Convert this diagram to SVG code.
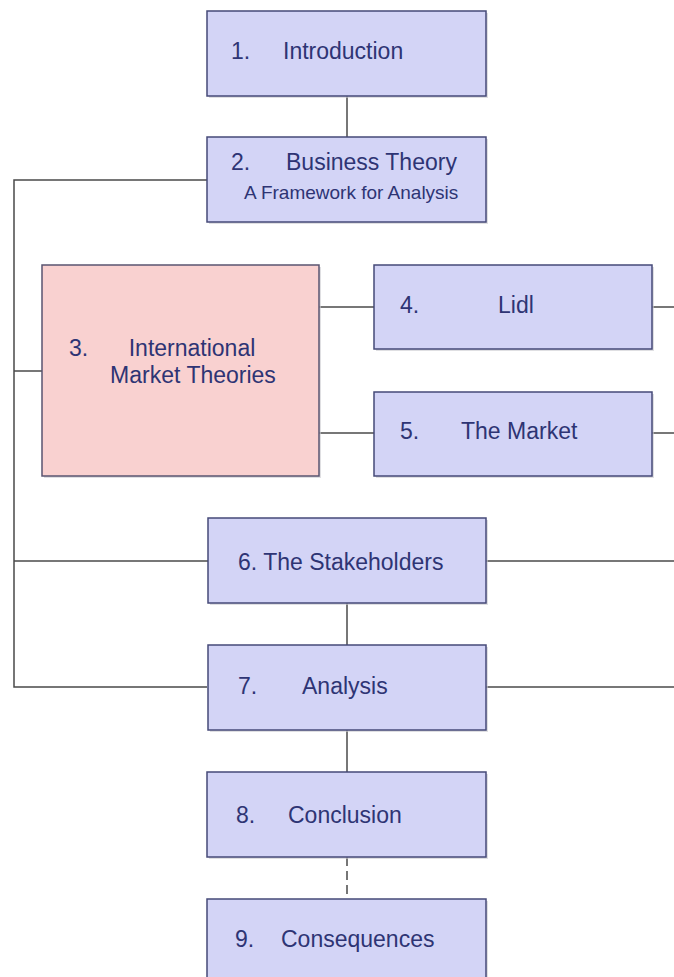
<svg xmlns="http://www.w3.org/2000/svg" width="674" height="977" viewBox="0 0 674 977">
<style>
.box{fill:#d3d4f6;stroke:#464a78;stroke-width:1.5}
.pink{fill:#f9d1d0;stroke:#5a5470;stroke-width:1.5}
.sh{fill:#c9c9cf;opacity:0.6}
.t{font-family:"Liberation Sans",Arial,sans-serif;font-size:23px;fill:#2e3474}
.s{font-size:19px}
.c{fill:none;stroke:#4a4a4a;stroke-width:1.5}
</style>
<rect width="674" height="977" fill="#ffffff"/>
<g id="connectors">
<line class="c" x1="347" y1="96" x2="347" y2="137"/>
<polyline class="c" points="207,180 14,180 14,687 207,687"/>
<line class="c" x1="14" y1="371" x2="42" y2="371"/>
<line class="c" x1="14" y1="561" x2="208" y2="561"/>
<line class="c" x1="319" y1="307" x2="374" y2="307"/>
<line class="c" x1="319" y1="433" x2="374" y2="433"/>
<line class="c" x1="652" y1="307" x2="674" y2="307"/>
<line class="c" x1="652" y1="433" x2="674" y2="433"/>
<line class="c" x1="486" y1="561" x2="674" y2="561"/>
<line class="c" x1="486" y1="687" x2="674" y2="687"/>
<line class="c" x1="347" y1="603" x2="347" y2="645"/>
<line class="c" x1="347" y1="730" x2="347" y2="772"/>
<line class="c" x1="347" y1="857" x2="347" y2="899" stroke-dasharray="9,5"/>
</g>
<g id="n1">
<rect class="sh" x="209" y="13" width="279" height="85"/>
<rect class="box" x="207" y="11" width="279" height="85"/>
<text class="t" x="231" y="59">1.</text>
<text class="t" x="283" y="59">Introduction</text>
</g>
<g id="n2">
<rect class="sh" x="209" y="139" width="279" height="85"/>
<rect class="box" x="207" y="137" width="279" height="85"/>
<text class="t" x="231" y="170">2.</text>
<text class="t" x="286" y="170">Business Theory</text>
<text class="t s" x="244" y="199">A Framework for Analysis</text>
</g>
<g id="n3">
<rect class="sh" x="44" y="267" width="277" height="211"/>
<rect class="pink" x="42" y="265" width="277" height="211"/>
<text class="t" x="69" y="356">3.</text>
<text class="t" x="192" y="356" text-anchor="middle">International</text>
<text class="t" x="193" y="383" text-anchor="middle">Market Theories</text>
</g>
<g id="n4">
<rect class="sh" x="376" y="267" width="278" height="84"/>
<rect class="box" x="374" y="265" width="278" height="84"/>
<text class="t" x="400" y="313">4.</text>
<text class="t" x="498" y="313">Lidl</text>
</g>
<g id="n5">
<rect class="sh" x="376" y="394" width="278" height="84"/>
<rect class="box" x="374" y="392" width="278" height="84"/>
<text class="t" x="400" y="439">5.</text>
<text class="t" x="461" y="439">The Market</text>
</g>
<g id="n6">
<rect class="sh" x="210" y="520" width="278" height="85"/>
<rect class="box" x="208" y="518" width="278" height="85"/>
<text class="t" x="238" y="570">6. The Stakeholders</text>
</g>
<g id="n7">
<rect class="sh" x="210" y="647" width="278" height="85"/>
<rect class="box" x="208" y="645" width="278" height="85"/>
<text class="t" x="238" y="694">7.</text>
<text class="t" x="302" y="694">Analysis</text>
</g>
<g id="n8">
<rect class="sh" x="209" y="774" width="279" height="85"/>
<rect class="box" x="207" y="772" width="279" height="85"/>
<text class="t" x="236" y="823">8.</text>
<text class="t" x="288" y="823">Conclusion</text>
</g>
<g id="n9">
<rect class="sh" x="209" y="901" width="279" height="85"/>
<rect class="box" x="207" y="899" width="279" height="85"/>
<text class="t" x="235" y="947">9.</text>
<text class="t" x="281" y="947">Consequences</text>
</g>
</svg>
